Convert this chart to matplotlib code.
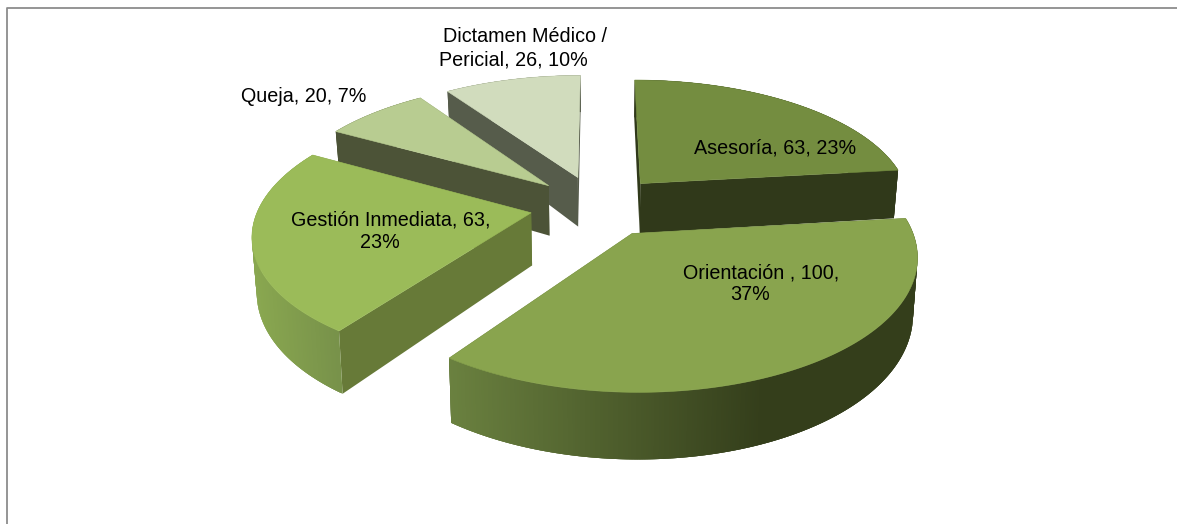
import numpy as np
import matplotlib
matplotlib.use("Agg")
import matplotlib.pyplot as plt
from matplotlib.colors import to_rgb

categories = ["Asesoría", "Orientación ", "Gestión Inmediata", "Queja", "Dictamen Médico /\nPericial"]
values = [63, 100, 63, 20, 26]
percents = [23, 37, 23, 7, 10]
label_lines = [
    [("Asesoría, 63, 23%", 775, 148)],
    [("Orientación , 100,", 761, 273), ("37%", 750, 295)],
    [("Gestión Inmediata, 63,", 391, 220), ("23%", 380, 242)],
    [("Queja, 20, 7%", 304, 96)],
    [("Dictamen Médico /", 525, 36), ("Pericial, 26, 10%", 513, 60)],
]

tops = ["#748d40", "#89a44e", "#9bbb59", "#b8cc91", "#d1dcbd"]
faces = ["#30391a", "#30391a", "#677a38", "#4c5337", "#565c4b"]
rim_right = ["#30391a", "#343e1b", "#78924a", "#4c5337", "#565c4b"]
rim_left = ["#30391a", "#6b8240", "#8aa850", "#4c5337", "#565c4b"]

CX, CY = 597, 206
RX, RY = 272, 125.5
EXPLODE = 0.246
DEPTH = 52
PERSP = 6.6


def project(x, y, z=0.0):
    s = PERSP / (PERSP - y)
    return (CX + RX * x * s * (1 - 0.014 * z),
            CY + RY * y * s + DEPTH * z * (1 + 0.24 * y))


fig = plt.figure(figsize=(11.77, 5.24), dpi=100)
ax = fig.add_axes([0, 0, 1, 1])
ax.set_xlim(0, 1177)
ax.set_ylim(524, 0)
ax.axis("off")
ax.plot([6.5, 6.5, 1190], [540, 8, 8], color="#8c8c8c", lw=1.3, zorder=1)

fr = np.array(values, float) / sum(values)
edges = np.concatenate([[0], np.cumsum(fr)]) * 2 * np.pi
mids = (edges[:-1] + edges[1:]) / 2
draw_order = [4, 3, 0, 2, 1]

z = 2
for i in draw_order:
    ox, oy = EXPLODE * np.sin(mids[i]), -EXPLODE * np.cos(mids[i])
    th = np.linspace(edges[i], edges[i + 1], 300)
    px, py = ox + np.sin(th), oy - np.cos(th)
    # radial faces
    for k in (0, -1):
        sx, sy = project(np.array([ox, px[k], px[k], ox]),
                         np.array([oy, py[k], py[k], oy]),
                         np.array([0, 0, 1, 1]))
        ax.fill(sx, sy, color=faces[i], lw=0, zorder=z)
    # rim, shaded along the arc by screen position
    sx0, sy0 = project(px, py, 0.0)
    sx1, sy1 = project(px, py, 1.0)
    c_r, c_l = np.array(to_rgb(rim_right[i])), np.array(to_rgb(rim_left[i]))
    lo, hi = sx0.min(), sx0.max()
    order = range(len(th) - 1) if sx0[0] < sx0[-1] else range(len(th) - 2, -1, -1)
    for j in order:
        t = (sx0[j] - lo) / max(hi - lo, 1)
        if i == 1:
            t = np.clip(t / 0.68, 0, 1)
        col = c_l + (c_r - c_l) * t
        j2 = min(j + 3, len(th) - 1)
        ax.fill([sx0[j], sx0[j2], sx1[j2], sx1[j]],
                [sy0[j], sy0[j2], sy1[j2], sy1[j]],
                color=col, lw=0, zorder=z)
    # top surface
    tx, ty = project(np.r_[ox, px], np.r_[oy, py], 0.0)
    ax.fill(tx, ty, color=tops[i], lw=0.4, zorder=z + 0.5)
    z += 1

for group in label_lines:
    for text, x, y in group:
        ax.text(x, y, text, ha="center", va="center", fontsize=14.2,
                family="Liberation Sans", color="black", zorder=20)

fig.savefig("out.png", dpi=100)
